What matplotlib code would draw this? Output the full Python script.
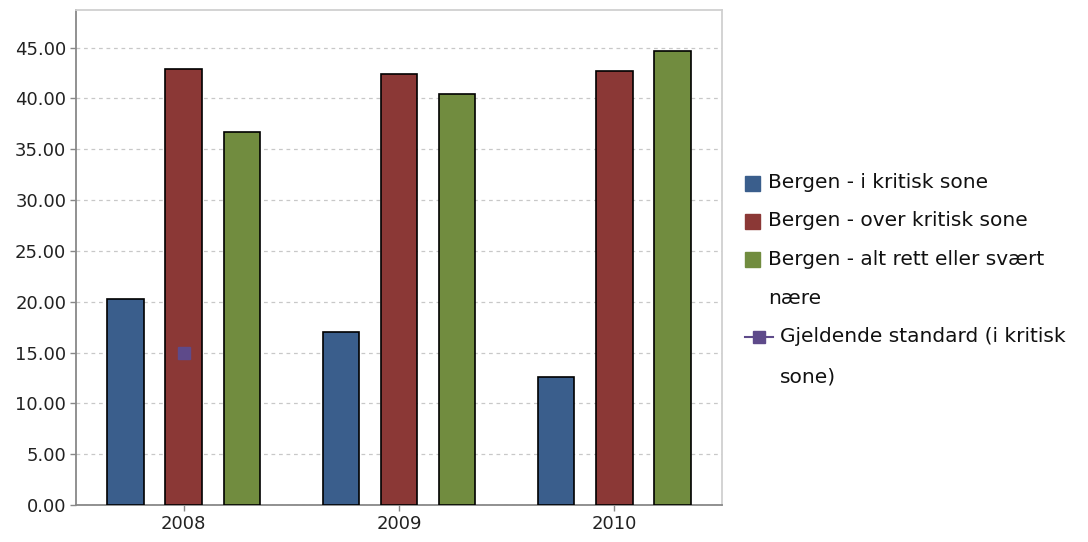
import numpy as np
import matplotlib
matplotlib.use("Agg")
import matplotlib.pyplot as plt
from matplotlib.ticker import FormatStrFormatter
from matplotlib.patches import Rectangle
from matplotlib.lines import Line2D

years = ["2008", "2009", "2010"]
i_kritisk = [20.3, 17.0, 12.6]
over_kritisk = [42.85, 42.45, 42.65]
alt_rett = [36.7, 40.45, 44.65]
standard = [15.0, np.nan, np.nan]

labels = ["Bergen - i kritisk sone",
          "Bergen - over kritisk sone",
          "Bergen - alt rett eller svært\nnære",
          "Gjeldende standard (i kritisk\nsone)"]
colors = ["#3a5e8c", "#8b3836", "#718c3f"]
purple = "#5e4a8a"

plt.rcParams['font.family'] = ['DejaVu Sans']

W, H = 1088, 542
fig = plt.figure(figsize=(W / 100, H / 100), dpi=100)
ax = fig.add_axes([76/W, 37/H, 646/W, 495/H])

x = np.arange(len(years))
w = 0.17
off = 0.27
for k, vals in enumerate([i_kritisk, over_kritisk, alt_rett]):
    ax.bar(x + (k - 1) * off, vals, w, color=colors[k], edgecolor="black",
           linewidth=1.2, zorder=3)
ax.plot(x, standard, color=purple, marker="s", markersize=9,
        linewidth=1.5, zorder=4)

ax.set_xlim(-0.5, 2.5)
ax.set_ylim(0, 48.7)
ax.set_yticks(np.arange(0, 46, 5))
ax.yaxis.set_major_formatter(FormatStrFormatter("%.2f"))
ax.set_xticks(x)
ax.set_xticklabels(years)
ax.grid(axis="y", color="#c8c8c8", linestyle=(0, (3, 3)), linewidth=0.9, zorder=0)
for s in ["left", "bottom"]:
    ax.spines[s].set_color("#888888")
    ax.spines[s].set_linewidth(1.3)
for s in ["top", "right"]:
    ax.spines[s].set_color("#d0d0d0")
    ax.spines[s].set_linewidth(1.3)
ax.tick_params(axis="both", labelsize=13, colors="#888888", labelcolor="#222222",
               length=4, width=1, pad=3)

# legend drawn by hand so the keys sit at the first line of wrapped labels
def fx(px):
    return px / W

def fy(py):
    return 1 - py / H

fs = 14.5
rows = [183, 221, 259, 337]
for k in range(3):
    y = rows[k]
    fig.patches.append(Rectangle((fx(745), fy(y + 8)), 15 / W, 15 / H,
                                 transform=fig.transFigure, color=colors[k]))
    for j, part in enumerate(labels[k].split("\n")):
        fig.text(fx(768), fy(y + 39 * j), part, fontsize=fs, va="center",
                 color="#111111")
y = rows[3]
fig.lines.append(Line2D([fx(745), fx(759), fx(773)], [fy(y)] * 3, color=purple,
                        linewidth=1.5, marker="s", markersize=8,
                        markevery=[1], transform=fig.transFigure))
for j, part in enumerate(labels[3].split("\n")):
    fig.text(fx(780), fy(y + 40 * j), part, fontsize=fs, va="center",
             color="#111111")

fig.savefig("out.png", dpi=100)
